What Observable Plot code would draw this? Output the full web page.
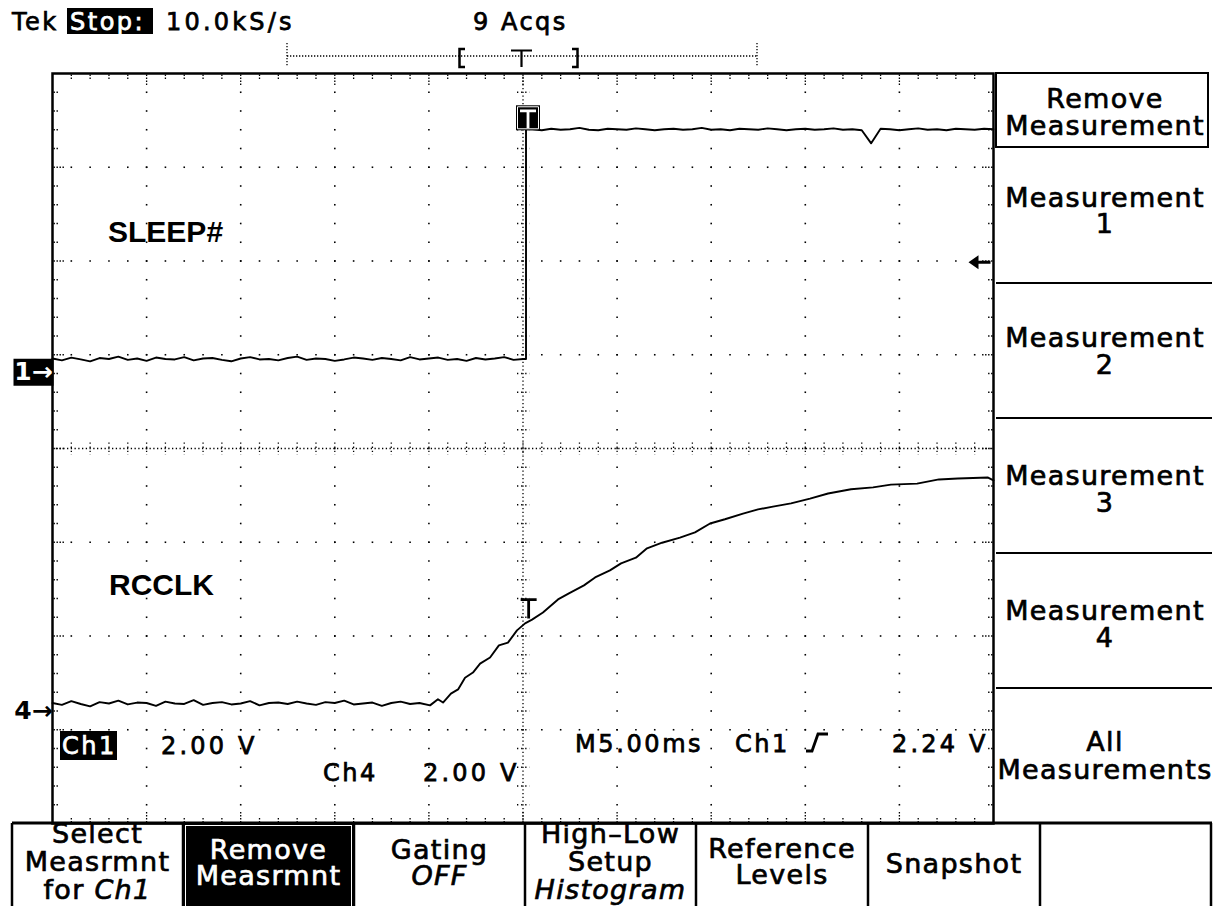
<!DOCTYPE html>
<html><head><meta charset="utf-8">
<script src="https://cdn.jsdelivr.net/npm/d3@7"></script>
<script src="https://cdn.jsdelivr.net/npm/@observablehq/plot@0.6"></script>
<style>
html,body{margin:0;padding:0;background:#fff;}
#wrap{position:relative;width:1215px;height:906px;overflow:hidden;background:#fff;}
#wrap svg{position:absolute;left:0;top:0;}
</style></head><body><div id="wrap"></div>
<script>
const channelNames = ["SLEEP#", "RCCLK"];
const voltsPerDiv = 2.00;          // Ch1 and Ch4: 2.00 V/div
const msPerDiv = 5.00;             // M5.00ms
const triggerLevel = 2.24;         // Ch1 rising, 2.24 V
const ch1Offset = 0.835;           // ground marker "1→", in divisions from centre
const ch4Offset = -2.795;          // ground marker "4→", in divisions from centre

// Ch1 (SLEEP#): time in ms, volts
const ch1Time = [-25,-24.5,-24,-23.5,-23,-22.5,-22,-21.5,-21,-20.5,-20,-19.5,-19,-18.5,-18,-17.5,-17,-16.5,-16,-15.5,
  -15,-14.5,-14,-13.5,-13,-12.5,-12,-11.5,-11,-10.5,-10,-9.5,-9,-8.5,-8,-7.5,-7,-6.5,-6,-5.5,
  -5,-4.5,-4,-3.5,-3,-2.5,-2,-1.5,-1,-0.5,0,
  0.16,0.16,
  0.5,1,1.5,2,2.5,3,3.5,4,4.5,5,5.5,6,6.5,7,7.5,8,8.5,9,9.5,10,10.5,11,11.5,12,12.5,13,13.5,14,14.5,15,
  15.5,16,16.5,17,17.5,18,18.5,19,19.5,20,20.5,21,21.5,22,22.5,23,23.5,24,24.5,25];
const ch1Volts = [0.25,0.21,0.27,0.23,0.19,0.26,0.24,0.29,0.22,0.25,0.20,0.27,0.24,0.23,0.28,0.21,0.25,0.26,0.22,0.19,
  0.25,0.28,0.23,0.24,0.21,0.26,0.29,0.22,0.25,0.24,0.20,0.23,0.27,0.25,0.22,0.26,0.24,0.21,0.28,0.23,
  0.25,0.27,0.22,0.24,0.20,0.26,0.23,0.25,0.28,0.22,0.24,
  0.24,5.14,
  5.14,5.12,5.15,5.13,5.14,5.17,5.13,5.12,5.15,5.14,5.13,5.16,5.14,5.12,5.14,5.15,5.13,5.14,5.17,5.13,
  5.14,5.12,5.15,5.14,5.13,5.16,5.14,5.12,5.14,5.15,5.13,5.14,5.16,5.13,5.14,5.12,4.84,5.15,5.14,5.12,
  5.14,5.16,5.13,5.14,5.12,5.15,5.14,5.13,5.15,5.14];

// Ch4 (RCCLK): time in ms, volts
const ch4Time = [-25,-24.5,-24,-23.5,-23,-22.5,-22,-21.5,-21,-20.5,-20,-19.5,-19,-18.5,-18,-17.5,-17,-16.5,-16,-15.5,
  -15,-14.5,-14,-13.5,-13,-12.5,-12,-11.5,-11,-10.5,-10,-9.5,-9,-8.5,-8,-7.5,-7,-6.5,-6,-5.5,
  -4.94,-4.52,-4.25,-3.83,-3.45,-3.08,-2.66,-2.28,-1.75,-1.28,-0.80,-0.32,0.11,0.48,1.06,1.86,2.44,3.24,3.83,4.62,
  5.21,6.00,6.59,7.39,8.34,9.14,9.94,10.73,11.69,12.49,13.28,14.24,15.25,16.21,17.43,18.60,19.55,20.94,22.10,23.11,
  24.71,25];
const ch4Volts = [0.16,0.12,0.20,0.14,0.09,0.18,0.15,0.21,0.13,0.17,0.16,0.10,0.19,0.15,0.14,0.22,0.12,0.16,0.18,0.13,
  0.15,0.20,0.11,0.16,0.17,0.14,0.19,0.15,0.12,0.18,0.16,0.21,0.13,0.15,0.17,0.10,0.16,0.19,0.14,0.16,
  0.11,0.24,0.17,0.36,0.45,0.70,0.81,1.00,1.13,1.39,1.45,1.71,1.86,1.94,2.09,2.37,2.50,2.67,2.84,2.99,
  3.14,3.26,3.46,3.58,3.69,3.80,3.99,4.08,4.20,4.29,4.35,4.42,4.52,4.63,4.72,4.76,4.82,4.84,4.93,4.95,
  4.97,4.91];

// ---------- GRATICULE STRUCTURE ----------
const divX = 10, divY = 8, minorPerDiv = 5;
const xMax = divX / 2 * msPerDiv, yMax = divY / 2;
const majorX = d3.range(-divX / 2, divX / 2 + 1).map(d => d * msPerDiv);
const majorY = d3.range(-yMax, yMax + 1);
const minorX = d3.range(-divX / 2 * minorPerDiv, divX / 2 * minorPerDiv + 1).map(d => d * msPerDiv / minorPerDiv);
const minorY = d3.range(-yMax * minorPerDiv, yMax * minorPerDiv + 1).map(d => d / minorPerDiv);
const isEdgeX = v => Math.abs(Math.abs(v) - xMax) < 1e-9;
const isEdgeY = v => Math.abs(Math.abs(v) - yMax) < 1e-9;
const isMajorX = v => majorX.some(m => Math.abs(m - v) < 1e-9);
const isMajorY = v => majorY.some(m => Math.abs(m - v) < 1e-9);

const gridDots = [];
for (const mx of majorX) if (!isEdgeX(mx) && mx !== 0) for (const my of minorY) if (!isEdgeY(my)) gridDots.push({x: mx, y: my});
for (const my of majorY) if (!isEdgeY(my) && my !== 0) for (const mx of minorX) if (!isEdgeX(mx)) gridDots.push({x: mx, y: my});

const ch1 = ch1Time.map((t, i) => ({t, div: ch1Offset + ch1Volts[i] / voltsPerDiv}));
const ch4 = ch4Time.map((t, i) => ({t, div: ch4Offset + ch4Volts[i] / voltsPerDiv}));
const ch1Edge = {t: ch1Time[52], div: ch1Offset + ch1Volts[52] / voltsPerDiv};

// custom pixel symbols
const seg = (x1, y1, x2, y2) => ({draw(c) { c.moveTo(x1, y1); c.lineTo(x2, y2); }});
const rectSym = (x, y, w, h) => ({draw(c) { c.rect(x, y, w, h); }});
const pathSym = f => ({draw: f});
const sq = rectSym(-0.8, -0.8, 1.6, 1.6);

const tickStyle = {stroke: "black", fill: "none", strokeWidth: 1.3, strokeDasharray: "1.4 1.6"};
const edge = (data, sym) => Plot.dot(data, {x: "x", y: "y", symbol: sym, ...tickStyle});

const topTicksMinor = minorX.filter(v => !isMajorX(v)).map(x => ({x, y: yMax}));
const topTicksMajor = majorX.filter(v => !isEdgeX(v)).map(x => ({x, y: yMax}));
const botTicksMinor = minorX.filter(v => !isMajorX(v)).map(x => ({x, y: -yMax}));
const botTicksMajor = majorX.filter(v => !isEdgeX(v)).map(x => ({x, y: -yMax}));
const leftTicksMinor = minorY.filter(v => !isMajorY(v)).map(y => ({x: -xMax, y}));
const leftTicksMajor = majorY.filter(v => !isEdgeY(v)).map(y => ({x: -xMax, y}));
const rightTicksMinor = minorY.filter(v => !isMajorY(v)).map(y => ({x: xMax, y}));
const rightTicksMajor = majorY.filter(v => !isEdgeY(v)).map(y => ({x: xMax, y}));

const plot = Plot.plot({
  width: 1215, height: 906,
  marginLeft: 52, marginRight: 222, marginTop: 73, marginBottom: 83,
  x: {domain: [-xMax, xMax], axis: null},
  y: {domain: [-yMax, yMax], axis: null},
  style: {background: "transparent", fontFamily: "DejaVu Sans", overflow: "visible"},
  marks: [
    Plot.dot(gridDots, {x: "x", y: "y", symbol: sq, fill: "black"}),
    Plot.ruleX([0], {stroke: "black", strokeWidth: 1.3, strokeDasharray: "1.3 2.45"}),
    Plot.ruleY([0], {stroke: "black", strokeWidth: 1.3, strokeDasharray: "1.3 2.45"}),
    Plot.dot(minorY.filter(v => !isEdgeY(v)).map(y => ({x: 0, y})), {x: "x", y: "y", symbol: seg(-6, 0, 6.5, 0), ...tickStyle, strokeDasharray: "1.3 2.8"}),
    Plot.dot(minorX.filter(v => !isEdgeX(v)).map(x => ({x, y: 0})), {x: "x", y: "y", symbol: seg(0, -6, 0, 6.5), ...tickStyle, strokeDasharray: "1.3 2.8"}),
    edge(topTicksMinor, seg(0, 1, 0, 7)), edge(topTicksMajor, seg(0, 1, 0, 12)),
    edge(botTicksMinor, seg(0, -1, 0, -7)), edge(botTicksMajor, seg(0, -1, 0, -12)),
    edge(leftTicksMinor, seg(1, 0, 7, 0)), edge(leftTicksMajor, seg(1, 0, 12, 0)),
    edge(rightTicksMinor, seg(-1, 0, -7, 0)), edge(rightTicksMajor, seg(-1, 0, -12, 0)),
    Plot.frame({stroke: "black", strokeWidth: 2.5}),
    // traces
    Plot.line(ch1, {x: "t", y: "div", stroke: "black", strokeWidth: 1.9}),
    Plot.line(ch4, {x: "t", y: "div", stroke: "black", strokeWidth: 1.9}),
    // trace labels
    Plot.text([channelNames[0]], {x: -22.05, y: 2.31, text: d => d, textAnchor: "start", fontFamily: "Liberation Sans", fontWeight: "bold", fontSize: 30, fill: "black"}),
    Plot.text([channelNames[1]], {x: -22.0, y: -1.46, text: d => d, textAnchor: "start", fontFamily: "Liberation Sans", fontWeight: "bold", fontSize: 30, fill: "black"}),
    // trigger marker on Ch1
    Plot.dot([ch1Edge], {x: "t", y: "div", symbol: rectSym(-10, -24, 24, 25), fill: "black"}),
    Plot.dot([ch1Edge], {x: "t", y: "div", symbol: rectSym(-8.5, -22.5, 21, 22), stroke: "white", strokeWidth: 1, fill: "none"}),
    Plot.dot([ch1Edge], {x: "t", y: "div", symbol: pathSym(c => { c.moveTo(-6, -18.5); c.lineTo(10, -18.5); c.moveTo(2, -18.5); c.lineTo(2, -1); }), stroke: "white", strokeWidth: 2.8, fill: "none"}),
    // trigger point on Ch4
    Plot.dot([{t: 0.3, div: ch4Offset + triggerLevel / voltsPerDiv}], {x: "t", y: "div", stroke: "black", strokeWidth: 2.8, fill: "none",
      symbol: pathSym(c => { c.moveTo(-8, -6); c.lineTo(8, -6); c.moveTo(0, -6); c.lineTo(0, 13); })}),
    // trigger level arrow on right edge
    Plot.dot([{x: xMax, y: ch1Offset + triggerLevel / voltsPerDiv}], {x: "x", y: "y", fill: "black",
      symbol: pathSym(c => { c.moveTo(-25, -3); c.lineTo(-15, -10); c.lineTo(-15, 4); c.closePath(); c.rect(-15, -4.5, 12, 3); })}),
    // ground markers
    Plot.dot([{x: -xMax, y: ch1Offset}], {x: "x", y: "y", symbol: rectSym(-39, -11.5, 40, 27), fill: "black"}),
    Plot.text(["1→"], {x: -xMax, y: ch1Offset, text: d => d, dx: -19, dy: 1.5, fontSize: 25, fontWeight: "bold", fill: "white"}),
    Plot.text(["4→"], {x: -xMax, y: ch4Offset, text: d => d, dx: -19, dy: 0, fontSize: 25, fontWeight: "bold", fill: "black"})
  ]
});
document.getElementById("wrap").appendChild(plot);

// ---------- SCREEN CHROME ----------
const o = d3.select("#wrap").append("svg").attr("width", 1215).attr("height", 906)
  .style("font-family", "DejaVu Sans").style("pointer-events", "none");
function txt(x, y, s, opt = {}) {
  const fill = opt.fill || "black";
  const t = o.append("text").attr("x", x).attr("y", y)
    .attr("font-size", opt.size || 24).attr("fill", fill)
    .attr("stroke", fill).attr("stroke-width", opt.sw != null ? opt.sw : 0.75)
    .attr("text-anchor", opt.anchor || "start")
    .style("letter-spacing", (opt.ls != null ? opt.ls : 3.2) + "px");
  if (opt.style) t.attr("font-style", opt.style);
  if (opt.weight) t.attr("font-weight", opt.weight);
  if (Array.isArray(s)) s.forEach(p => { const ts = t.append("tspan").text(p.t); if (p.style) ts.attr("font-style", p.style); });
  else t.text(s);
  return t;
}
const line = (x1, y1, x2, y2, w = 2, dash) => { const l = o.append("line").attr("x1", x1).attr("y1", y1).attr("x2", x2).attr("y2", y2).attr("stroke", "black").attr("stroke-width", w); if (dash) l.attr("stroke-dasharray", dash); return l; };
const path = (d, w, stroke = "black") => o.append("path").attr("d", d).attr("fill", "none").attr("stroke", stroke).attr("stroke-width", w);
const rect = (x, y, w, h, fill, stroke, sw) => o.append("rect").attr("x", x).attr("y", y).attr("width", w).attr("height", h).attr("fill", fill || "none").attr("stroke", stroke || "none").attr("stroke-width", sw || 0);

// header
txt(12, 30, "Tek", {ls: 2.5});
rect(67, 8, 86, 26, "black");
txt(70, 30, "Stop:", {fill: "white", ls: 2.5});
txt(166, 30, "10.0kS/s");
txt(473, 30, "9 Acqs", {ls: 2.5});
// record view bar
line(287, 56, 757, 56, 1.3, "1.3 1.7");
line(287, 43, 287, 67, 1.3, "1.3 1.7");
line(757, 43, 757, 67, 1.3, "1.3 1.7");
path("M465,49 L459.5,49 L459.5,67 L465,67", 2.5);
path("M572,49 L577.5,49 L577.5,67 L572,67", 2.5);
path("M511,50.5 L532,50.5 M521.5,50.5 L521.5,67", 2.2);

// readouts inside the graticule
rect(60, 731, 57, 29, "black");
txt(62, 754, "Ch1", {fill: "white", ls: 2.5});
txt(161, 754, "2.00 V");
txt(323, 781, "Ch4", {ls: 2.5});
txt(423, 781, "2.00 V");
txt(575, 752, "M5.00ms", {ls: 2.6});
txt(735, 752, "Ch1", {ls: 2.5});
path("M806,751 L812,751 L818,734 L828,734", 2.8);
txt(892, 752, "2.24 V");

// right side menu
const mfs = {size: 27, ls: 1.3, anchor: "middle", sw: 0.7};
const rc = 1105;
rect(996, 73, 212, 74, "none", "black", 2);
txt(rc, 108, "Remove", mfs); txt(rc, 135, "Measurement", mfs);
[283, 418, 553, 688].forEach(y => line(996, y, 1212, y, 2));
txt(rc, 207, "Measurement", mfs); txt(rc, 233, "1", mfs);
txt(rc, 347, "Measurement", mfs); txt(rc, 374, "2", mfs);
txt(rc, 485, "Measurement", mfs); txt(rc, 512, "3", mfs);
txt(rc, 620, "Measurement", mfs); txt(rc, 647, "4", mfs);
txt(rc, 751, "All", mfs); txt(rc, 779, "Measurements", mfs);

// bottom menu
const bx = [12, 183, 354, 525, 696, 868, 1040, 1211];
rect(183, 823, 171, 90, "black");
rect(185.5, 825.5, 166, 90, "none", "white", 1);
line(12, 823, 1212, 823, 3);
bx.forEach(x => line(x, 823, x, 906, 2.5));
const bc = i => (bx[i] + bx[i + 1]) / 2;
txt(bc(0), 843, "Select", mfs); txt(bc(0), 871, "Measrmnt", mfs); txt(bc(0), 899, [{t: "for "}, {t: "Ch1", style: "italic"}], mfs);
txt(bc(1), 859, "Remove", {...mfs, fill: "white"}); txt(bc(1), 885, "Measrmnt", {...mfs, fill: "white"});
txt(bc(2), 859, "Gating", mfs); txt(bc(2), 885, "OFF", {...mfs, style: "italic"});
txt(bc(3), 843, "High–Low", mfs); txt(bc(3), 871, "Setup", mfs); txt(bc(3), 899, "Histogram", {...mfs, style: "italic"});
txt(bc(4), 858, "Reference", mfs); txt(bc(4), 884, "Levels", mfs);
txt(bc(5), 873, "Snapshot", mfs);
</script></body></html>
